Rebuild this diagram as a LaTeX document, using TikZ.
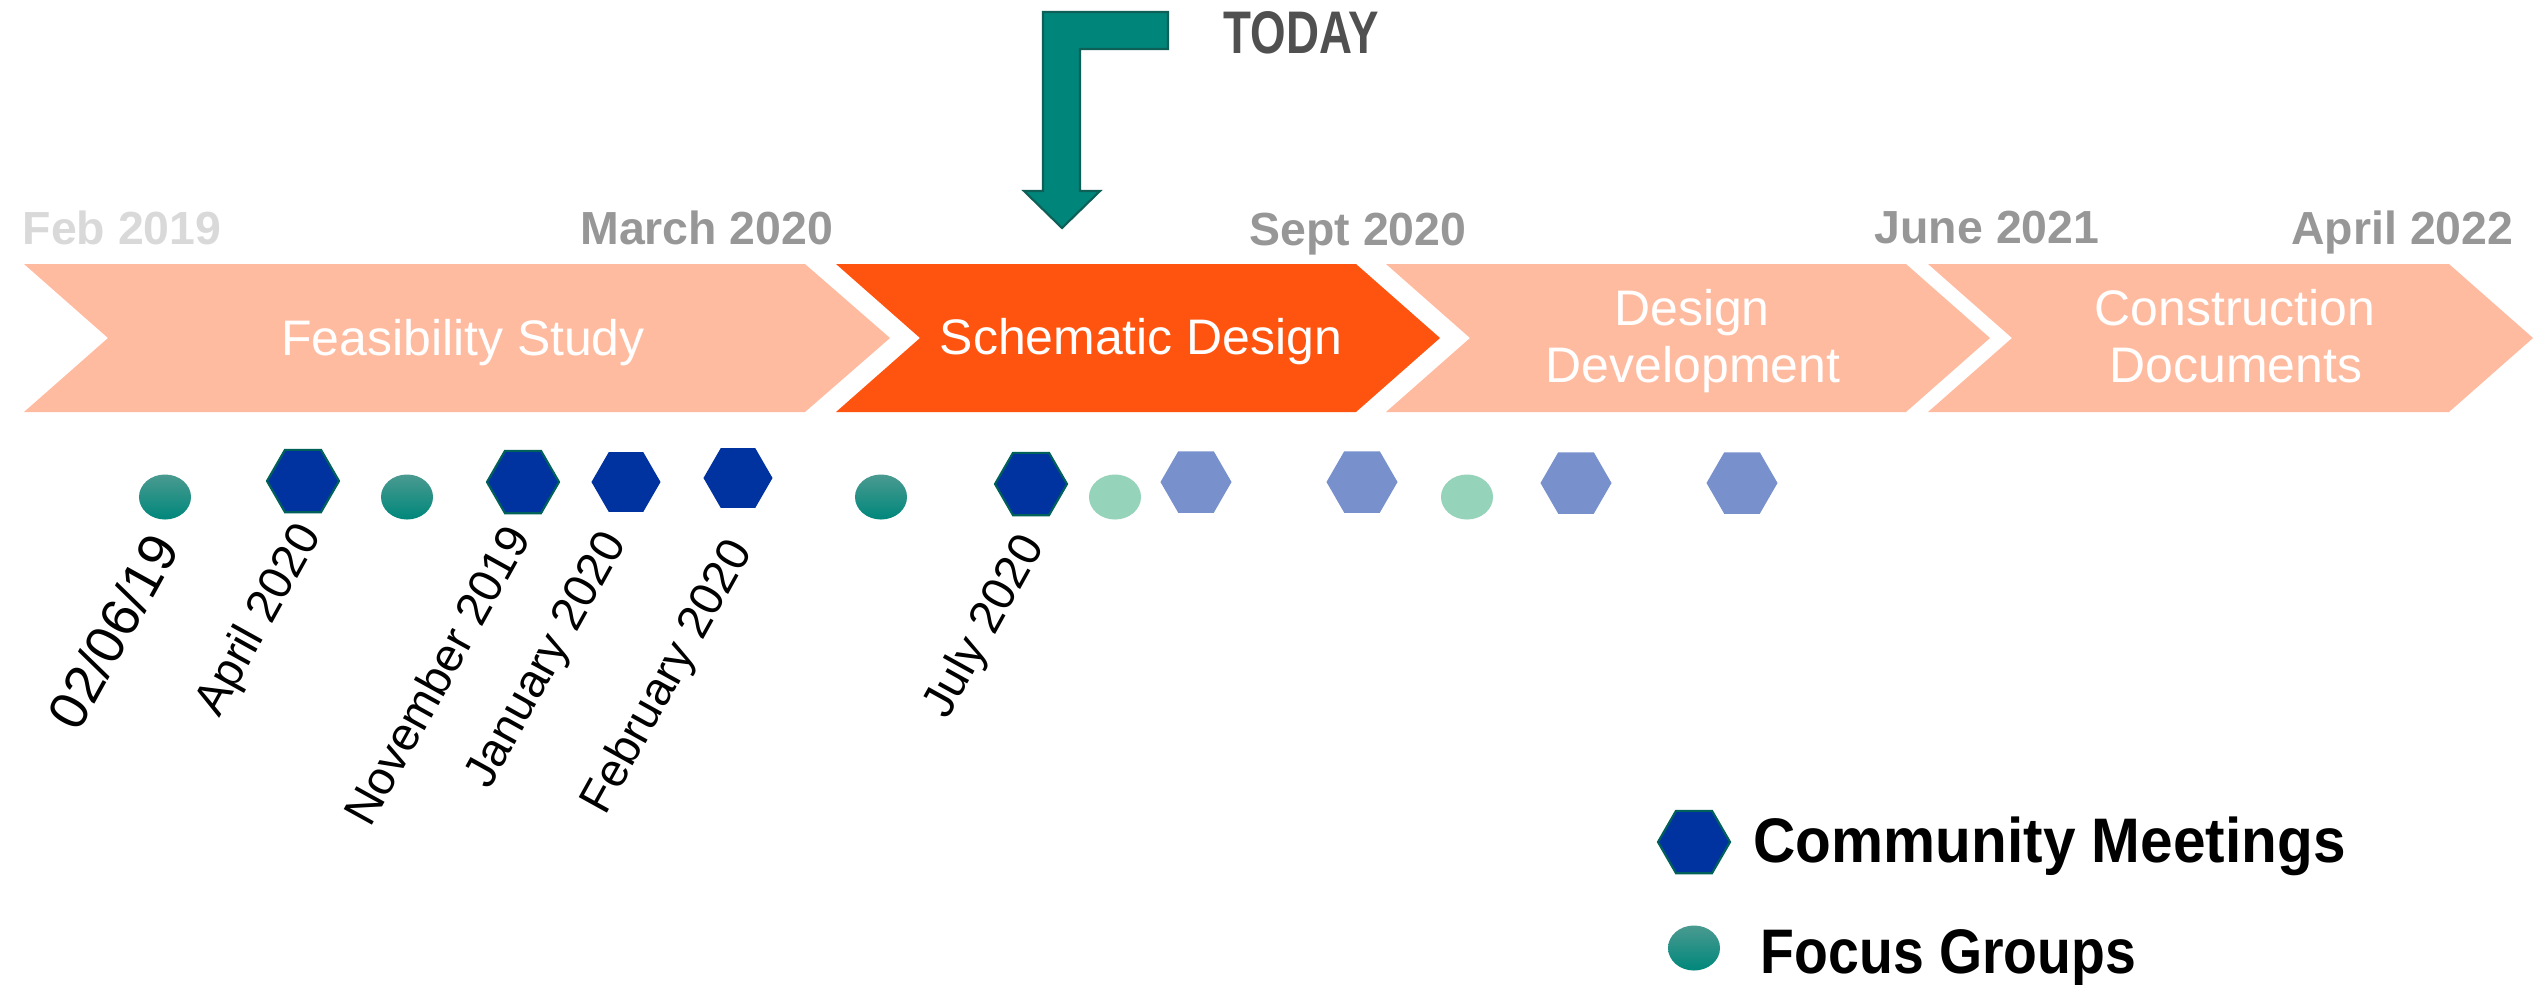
\documentclass[tikz,border=0pt]{standalone}
\usepackage{fontspec}
\setmainfont{Liberation Sans}
\newfontfamily\todayfont[FakeStretch=0.76]{Liberation Sans}
\newfontfamily\legfont[FakeStretch=0.93]{Liberation Sans}
\newfontfamily\legfontb[FakeStretch=0.88]{Liberation Sans}
\usetikzlibrary{shapes.geometric}
\definecolor{salmon}{HTML}{FFBBA0}
\definecolor{hot}{HTML}{FF540F}
\definecolor{arrowteal}{HTML}{00857A}
\definecolor{arrowedge}{HTML}{0D5F57}
\definecolor{hexblue}{HTML}{0033A0}
\definecolor{hexedge}{HTML}{00605A}
\definecolor{hexlight}{HTML}{7891CC}
\definecolor{circlight}{HTML}{95D3BA}
\definecolor{circtop}{HTML}{4A9A90}
\definecolor{circbot}{HTML}{00877B}
\definecolor{datelight}{HTML}{D9D9D9}
\definecolor{dategray}{HTML}{979797}
\definecolor{todaygray}{HTML}{505050}
\begin{document}
\begin{tikzpicture}[x=0.01cm,y=-0.01cm,
 phase/.style={font=\fontsize{14.2}{17}\selectfont, text=white, inner sep=0pt, anchor=base},
 datelbl/.style={font=\bfseries\fontsize{13.2}{16}\selectfont, text=dategray, inner sep=0pt},
 hexdark/.style={regular polygon, regular polygon sides=6, minimum size=0.72cm, inner sep=0pt, fill=hexblue, draw=hexedge, line width=0.6pt},
 hexplain/.style={regular polygon, regular polygon sides=6, minimum size=0.69cm, inner sep=0pt, fill=hexblue},
 hexpale/.style={regular polygon, regular polygon sides=6, minimum size=0.71cm, inner sep=0pt, fill=hexlight},
 circdark/.style={ellipse, minimum width=0.52cm, minimum height=0.45cm, inner sep=0pt, top color=circtop, bottom color=circbot, draw=none},
 circpale/.style={ellipse, minimum width=0.52cm, minimum height=0.45cm, inner sep=0pt, fill=circlight},
 mlabel/.style={rotate=61, anchor=base east, inner sep=0pt, font=\fontsize{13.3}{16}\selectfont},
 legtext/.style={inner sep=0pt, anchor=base west},
]
\fill[white] (0,0) rectangle (2539,984);
\useasboundingbox (0,0) rectangle (2539,984);

% phase chevrons
\fill[salmon] (24,264) -- (805,264) -- (890,338) -- (805,412) -- (24,412) -- (108,338) -- cycle;
\fill[hot] (836,264) -- (1356,264) -- (1440,338) -- (1356,412) -- (836,412) -- (920,338) -- cycle;
\fill[salmon] (1386,264) -- (1906,264) -- (1990,338) -- (1906,412) -- (1386,412) -- (1470,338) -- cycle;
\fill[salmon] (1928,264) -- (2449,264) -- (2533,338) -- (2449,412) -- (1928,412) -- (2012,338) -- cycle;

\node[phase] (fs) at (463,355) {Feasibility Study};
\node[phase] (sd) at (1141,354) {Schematic Design};
\node[phase] (dd1) at (1692,325) {Design};
\node[phase] (dd2) at (1693,382) {Development};
\node[phase] (cd1) at (2235,325) {Construction};
\node[phase] (cd2) at (2236,382) {Documents};

% milestone dates
\node[datelbl, text=datelight, anchor=base west] (d1) at (22,244) {Feb 2019};
\node[datelbl, anchor=base east] (d2) at (834,244) {March 2020};
\node[datelbl, anchor=base east] (d3) at (1467,245) {Sept 2020};
\node[datelbl, anchor=base east] (d4) at (2100,243) {June 2021};
\node[datelbl, anchor=base east] (d5) at (2514,244) {April 2022};

% today arrow
\filldraw[fill=arrowteal, draw=arrowedge, line width=0.6pt]
  (1043,12) -- (1168,12) -- (1168,49) -- (1080,49) -- (1080,191) -- (1100,191)
  -- (1062,228) -- (1024,191) -- (1043,191) -- cycle;
\node[inner sep=0pt, anchor=base west, text=todaygray, font=\todayfont\bfseries\fontsize{17.1}{20}\selectfont] (today) at (1223,53) {TODAY};

% markers
\node[circdark] (m1) at (165,497) {};
\node[hexdark] (m2) at (303,481) {};
\node[circdark] (m3) at (407,497) {};
\node[hexdark] (m4) at (523,482) {};
\node[hexplain] (m5) at (626,482) {};
\node[hexplain] (m6) at (738,478) {};
\node[circdark] (m7) at (881,497) {};
\node[hexdark] (m8) at (1031,484) {};
\node[circpale] (m9) at (1115,497) {};
\node[hexpale] (m10) at (1196,482) {};
\node[hexpale] (m11) at (1362,482) {};
\node[circpale] (m12) at (1467,497) {};
\node[hexpale] (m13) at (1576,483) {};
\node[hexpale] (m14) at (1742,483) {};

% marker labels
\node[mlabel, font=\fontsize{15.4}{18}\selectfont] (l1) at (181,548) {02/06/19};
\node[mlabel] (l2) at (322,534) {April 2020};
\node[mlabel] (l3) at (532,537) {November 2019};
\node[mlabel] (l4) at (627,542) {January 2020};
\node[mlabel] (l5) at (753,550) {February 2020};
\node[mlabel] (l6) at (1045,545) {July 2020};

% legend
\node[hexdark] (lg1) at (1694,842) {};
\node[circdark] (lg2) at (1694,948) {};
\node[legtext, font=\legfont\bfseries\fontsize{17.9}{21}\selectfont] (lt1) at (1753,862) {Community Meetings};
\node[legtext, font=\legfontb\bfseries\fontsize{17.9}{21}\selectfont] (lt2) at (1760,973) {Focus Groups};
\end{tikzpicture}
\end{document}
